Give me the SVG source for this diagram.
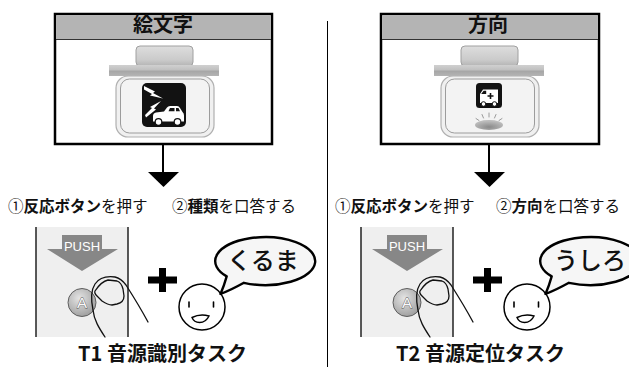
<svg xmlns="http://www.w3.org/2000/svg" xmlns:xlink="http://www.w3.org/1999/xlink" width="629" height="367" viewBox="0 0 629 367">
  <style>
    .jp { font-family: "Noto Sans CJK JP", "Noto Sans", sans-serif; }
    .title { font-size: 20px; font-weight: 700; text-anchor: middle; fill: #111; }
    .step { font-size: 15.5px; fill: #111; }
    .b { font-weight: 700; }
    .say { font-size: 24px; font-weight: 500; text-anchor: middle; fill: #111; }
    .task { font-size: 20px; font-weight: 700; text-anchor: middle; fill: #111; }
    .frame { fill: #fff; stroke: #000; stroke-width: 2.5; }
    .band { fill: #b4b4b4; }
    .conn { stroke: #000; stroke-width: 2; fill: none; }
    .head { fill: #000; }
    .ink { fill: none; stroke: #111; stroke-width: 1.3; stroke-linecap: round; stroke-linejoin: round; }
  </style>
  <defs>
    <linearGradient id="gTab" x1="0" y1="0" x2="0" y2="1">
      <stop offset="0" stop-color="#dedede"/>
      <stop offset="0.7" stop-color="#cacaca"/>
      <stop offset="1" stop-color="#b4b4b4"/>
    </linearGradient>
    <linearGradient id="gBar" x1="0" y1="0" x2="0" y2="1">
      <stop offset="0" stop-color="#d0d0d0"/>
      <stop offset="0.45" stop-color="#c0c0c0"/>
      <stop offset="0.55" stop-color="#a6a6a6"/>
      <stop offset="1" stop-color="#b4b4b4"/>
    </linearGradient>
    <radialGradient id="gBtn" cx="0.4" cy="0.35" r="0.7">
      <stop offset="0" stop-color="#e4e4e4"/>
      <stop offset="1" stop-color="#9c9c9c"/>
    </radialGradient>
    <radialGradient id="gLamp" cx="0.5" cy="0.7" r="0.6">
      <stop offset="0" stop-color="#8a8a8a"/>
      <stop offset="1" stop-color="#bdbdbd"/>
    </radialGradient>

    <!-- ceiling unit: mounting tab, rail and housing -->
    <g id="unit">
      <rect x="136" y="46" width="57" height="20" rx="4" fill="url(#gTab)" stroke="#a0a0a0" stroke-width="1"/>
      <rect x="116" y="76" width="98" height="61" rx="12" fill="#f0f0f0" stroke="#b0b0b0" stroke-width="1.2"/>
      <rect x="120.5" y="79" width="89" height="54" rx="9" fill="#f3f3f3" stroke="#9c9c9c" stroke-width="1"/>
      <rect x="109" y="65" width="110" height="11" fill="url(#gBar)"/>
    </g>

    <!-- response box with push button and finger -->
    <g id="pushpad">
      <rect x="36" y="227" width="92" height="110" fill="#efefef"/>
      <line x1="36" y1="227" x2="36" y2="337" stroke="#222" stroke-width="1.5"/>
      <line x1="128" y1="227" x2="128" y2="337" stroke="#222" stroke-width="1.5"/>
      <path d="M62,235 H102 V249 H118 L82,271 L47,249 H62 Z" fill="#878787"/>
      <text x="82" y="251" text-anchor="middle" font-family="'Liberation Sans', Arial, sans-serif" font-size="13" fill="#fff">PUSH</text>
      <circle cx="82" cy="302.5" r="14" fill="url(#gBtn)" stroke="#5e5e5e" stroke-width="1"/>
      <text x="82" y="308" text-anchor="middle" font-family="'Liberation Sans', Arial, sans-serif" font-size="15" fill="#fafafa" stroke="#555" stroke-width="0.8" paint-order="stroke">A</text>
      <path class="ink" d="M105,337 C99,328 94,320 93,310 C91,300 91,290 95,284 C99,278 107,276 115,277 C120,278 123,281 126,285 C133,296 141,309 148,322"/>
      <path class="ink" d="M95,291 C99,285 103,281 108,280 L117,281 C120,282 122,285 123,289 L124,296 C124,300 121,303 117,304 L112,305 C108,305 105,303 102,301 L97,296 C95,294 94,293 95,291 Z"/>
    </g>

    <!-- plus sign -->
    <g id="plus">
      <path d="M148,280 H177 M162.5,268 V292" stroke="#000" stroke-width="7"/>
    </g>

    <!-- face with speech balloon -->
    <g id="face">
      <circle cx="202" cy="307" r="23" fill="#fff" stroke="#000" stroke-width="1.5"/>
      <line x1="189" y1="302" x2="189" y2="307" stroke="#000" stroke-width="1.6" stroke-linecap="round"/>
      <line x1="213.5" y1="302" x2="213.5" y2="307" stroke="#000" stroke-width="1.6" stroke-linecap="round"/>
      <path d="M192,317.5 Q200,313.5 209,316 Q206,322.5 199.5,322.5 Q194,322.5 192,317.5 Z" fill="#fff" stroke="#000" stroke-width="1.4"/>
    </g>
    <path id="balloon" d="M243.9,282.8 A50,24 0 1 0 226.7,276.4 Q224,286 220.5,294 Q231,290 243.9,282.8 Z" fill="#f6f6f6" stroke="#000" stroke-width="2.4" stroke-linejoin="round"/>
  </defs>

  <!-- divider between the two tasks -->
  <line x1="327.5" y1="21" x2="327.5" y2="367" stroke="#000" stroke-width="1"/>

  <!-- T1: pictogram identification -->
  <g id="t1-display">
    <rect class="frame" x="55" y="14" width="217" height="130"/>
    <rect class="band" x="56.25" y="15.25" width="214.5" height="24"/>
    <line x1="56" y1="39.5" x2="271" y2="39.5" stroke="#333" stroke-width="1"/>
    <text class="jp title" x="163" y="32">絵文字</text>
    <use xlink:href="#unit"/>
    <rect x="142" y="83" width="44" height="44" rx="5" fill="#121212"/>
    <polygon points="144,86 155,91.5 153,93 163,98.5 150,95.5 152,94 144,89.5" fill="#fff"/>
    <polygon points="145,115 152,108 150,107 161,101 154,108.5 156,109.5 146,117.5" fill="#fff"/>
    <path d="M153,121.5 V116 Q153,113 156,112.5 L164,111.5 L167,107.5 Q168,106 170,106 H177 Q179,106 180,108 L182.5,112 Q184,113 184,115.5 V121.5 Z" fill="#fff"/>
    <path d="M168.5,111.3 L170,108 H174.5 V111.3 Z M176,111.3 V108 H178.5 L180,111.3 Z" fill="#121212"/>
    <circle cx="158.5" cy="122" r="3.3" fill="#fff" stroke="#121212" stroke-width="1.2"/>
    <circle cx="177.5" cy="122" r="3.3" fill="#fff" stroke="#121212" stroke-width="1.2"/>
  </g>

  <!-- T2: sound source localisation -->
  <g id="t2-display">
    <rect class="frame" x="381" y="14" width="218" height="130"/>
    <rect class="band" x="382.25" y="15.25" width="215.5" height="24"/>
    <line x1="382" y1="39.5" x2="598" y2="39.5" stroke="#333" stroke-width="1"/>
    <text class="jp title" x="488" y="32">方向</text>
    <use xlink:href="#unit" transform="translate(325,0)"/>
    <rect x="476" y="83" width="26" height="25" rx="3.5" fill="#121212"/>
    <path d="M480,103 V94 L483,89.5 H498 V103 Z" fill="#fff"/>
    <path d="M481.2,94 L483.6,90.8 H486.2 V94 Z" fill="#121212"/>
    <path d="M490.5,93 V99 M487.5,96 H493.5" stroke="#121212" stroke-width="1.6"/>
    <circle cx="483.5" cy="104" r="2.3" fill="#fff" stroke="#121212" stroke-width="1"/>
    <circle cx="494.5" cy="104" r="2.3" fill="#fff" stroke="#121212" stroke-width="1"/>
    <ellipse cx="489" cy="125" rx="14" ry="5" fill="url(#gLamp)"/>
    <path d="M476,118.5 L479,120.5 M482,114.5 L483.5,118 M489,113 V117 M496,114.5 L494.5,118 M502,118.5 L499,120.5" stroke="#9a9a9a" stroke-width="1" stroke-linecap="round"/>
  </g>

  <!-- flow arrows from displays to instructions -->
  <g id="connectors">
    <line class="conn" x1="163" y1="145" x2="163" y2="173"/>
    <polygon class="head" points="148,172 179,172 163.5,187"/>
    <line class="conn" x1="489" y1="145" x2="489" y2="173"/>
    <polygon class="head" points="474,172 505,172 489.5,187"/>
  </g>

  <!-- instructions -->
  <g id="t1-steps">
    <text class="jp step" x="8" y="211.5">①<tspan class="b">反応ボタン</tspan>を押す</text>
    <text class="jp step" x="172" y="211.5">②<tspan class="b">種類</tspan>を口答する</text>
  </g>
  <g id="t2-steps">
    <text class="jp step" x="335" y="211.5">①<tspan class="b">反応ボタン</tspan>を押す</text>
    <text class="jp step" x="496" y="211.5">②<tspan class="b">方向</tspan>を口答する</text>
  </g>

  <!-- T1 response -->
  <g id="t1-response">
    <use xlink:href="#pushpad"/>
    <use xlink:href="#plus"/>
    <use xlink:href="#face"/>
    <use xlink:href="#balloon"/>
    <text class="jp say" x="263" y="269">くるま</text>
  </g>

  <!-- T2 response -->
  <g id="t2-response">
    <use xlink:href="#pushpad" transform="translate(325,0)"/>
    <use xlink:href="#plus" transform="translate(325,0)"/>
    <use xlink:href="#face" transform="translate(325,0)"/>
    <use xlink:href="#balloon" transform="translate(325,0)"/>
    <text class="jp say" x="590" y="269">うしろ</text>
  </g>

  <!-- task names -->
  <text class="jp task" x="162.5" y="361">T1 音源識別タスク</text>
  <text class="jp task" x="480.5" y="361">T2 音源定位タスク</text>
</svg>
